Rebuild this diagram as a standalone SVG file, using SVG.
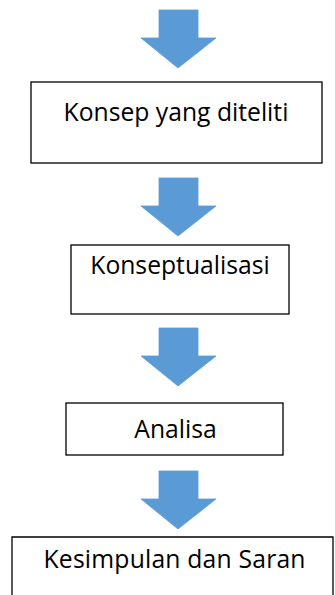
<svg xmlns="http://www.w3.org/2000/svg" width="335" height="595" viewBox="0 0 335 595">
<style>
.box{fill:#fff;stroke:#000;stroke-width:1.3}
.lbl{font-family:"Open Sans","Liberation Sans",sans-serif;font-size:24.7px;fill:#000;text-anchor:middle}
.arr{fill:#5B9BD5;stroke:#5B9BD5;stroke-width:0.8;stroke-linejoin:round}
</style>
<defs>
<path id="down" d="M-20,0 H19 V28 H37 L-1,58 L-38,28 H-20 Z"/>
</defs>
<g id="connectors">
<use href="#down" class="arr" x="179" y="10"/>
<use href="#down" class="arr" x="179" y="178"/>
<use href="#down" class="arr" x="179" y="328"/>
<use href="#down" class="arr" x="179" y="471"/>
</g>
<g id="n1">
<rect class="box" x="31" y="82" width="291" height="81"/>
<text class="lbl" x="176" y="121">Konsep yang diteliti</text>
</g>
<g id="n2">
<rect class="box" x="71" y="245" width="218" height="69"/>
<text class="lbl" x="180" y="274">Konseptualisasi</text>
</g>
<g id="n3">
<rect class="box" x="66" y="403" width="217" height="52"/>
<text class="lbl" x="175.5" y="438">Analisa</text>
</g>
<g id="n4">
<path class="box" d="M12,600 V537 H333 V600"/>
<text class="lbl" x="174.5" y="568" textLength="262" lengthAdjust="spacing">Kesimpulan dan Saran</text>
</g>
</svg>
